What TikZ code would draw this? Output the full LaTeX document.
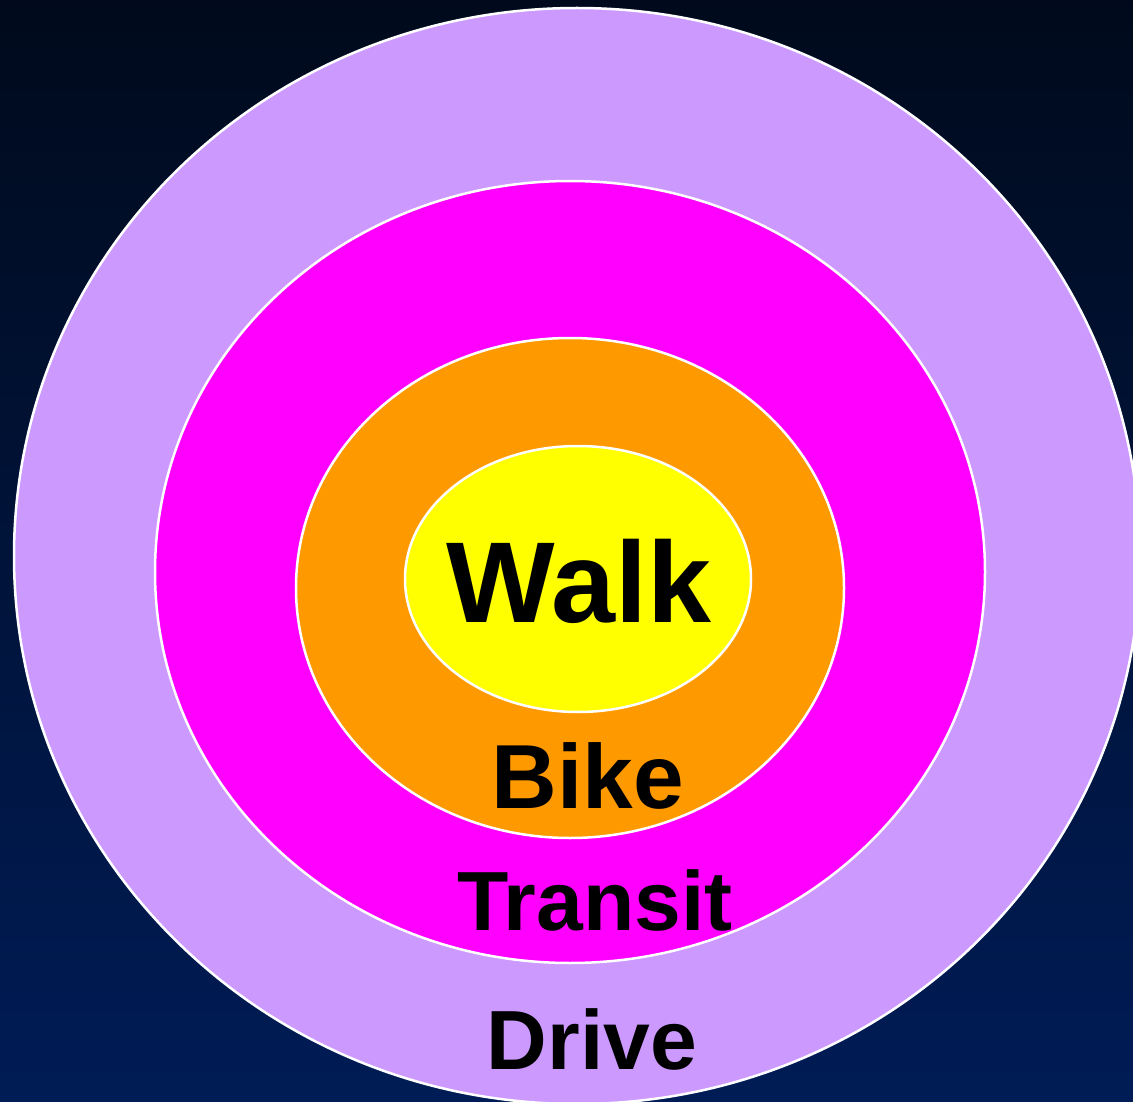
\documentclass[tikz,border=0pt]{standalone}
\usepackage{fontspec}
\setmainfont{Liberation Sans}
\definecolor{bgtop}{HTML}{000A1C}
\definecolor{bgbot}{HTML}{001C56}
\definecolor{drivec}{HTML}{CC99FF}
\definecolor{transitc}{HTML}{FF00FF}
\definecolor{bikec}{HTML}{FF9900}
\definecolor{walkc}{HTML}{FFFF00}
\begin{document}
\begin{tikzpicture}[x=1pt,y=-1pt,
  ring/.style={draw=white,line width=2.5pt},
  lbl/.style={anchor=base,inner sep=0pt,font=\bfseries}]
\useasboundingbox (0,0) rectangle (1133,1102);
\shade[top color=bgtop,bottom color=bgbot] (0,0) rectangle (1133,1102);
\begin{scope}
\clip (0,0) rectangle (1133,1102);
\draw[ring,fill=drivec] (577,556) ellipse [x radius=563,y radius=548];
\end{scope}
\draw[ring,fill=transitc] (570,572) ellipse [x radius=415,y radius=391];
\draw[ring,fill=bikec] (570,588) ellipse [x radius=274,y radius=250];
\draw[ring,fill=walkc] (578,579) ellipse [x radius=173,y radius=133];
\node[lbl,font=\fontsize{115}{120}\selectfont\bfseries] (walk) at (579,622) {Walk};
\node[lbl,font=\fontsize{91}{96}\selectfont\bfseries] (bike) at (588,808) {Bike};
\node[lbl,font=\fontsize{84}{90}\selectfont\bfseries] (transit) at (595,930) {Transit};
\node[lbl,font=\fontsize{84}{90}\selectfont\bfseries] (drive) at (592,1069) {Drive};
\end{tikzpicture}
\end{document}
